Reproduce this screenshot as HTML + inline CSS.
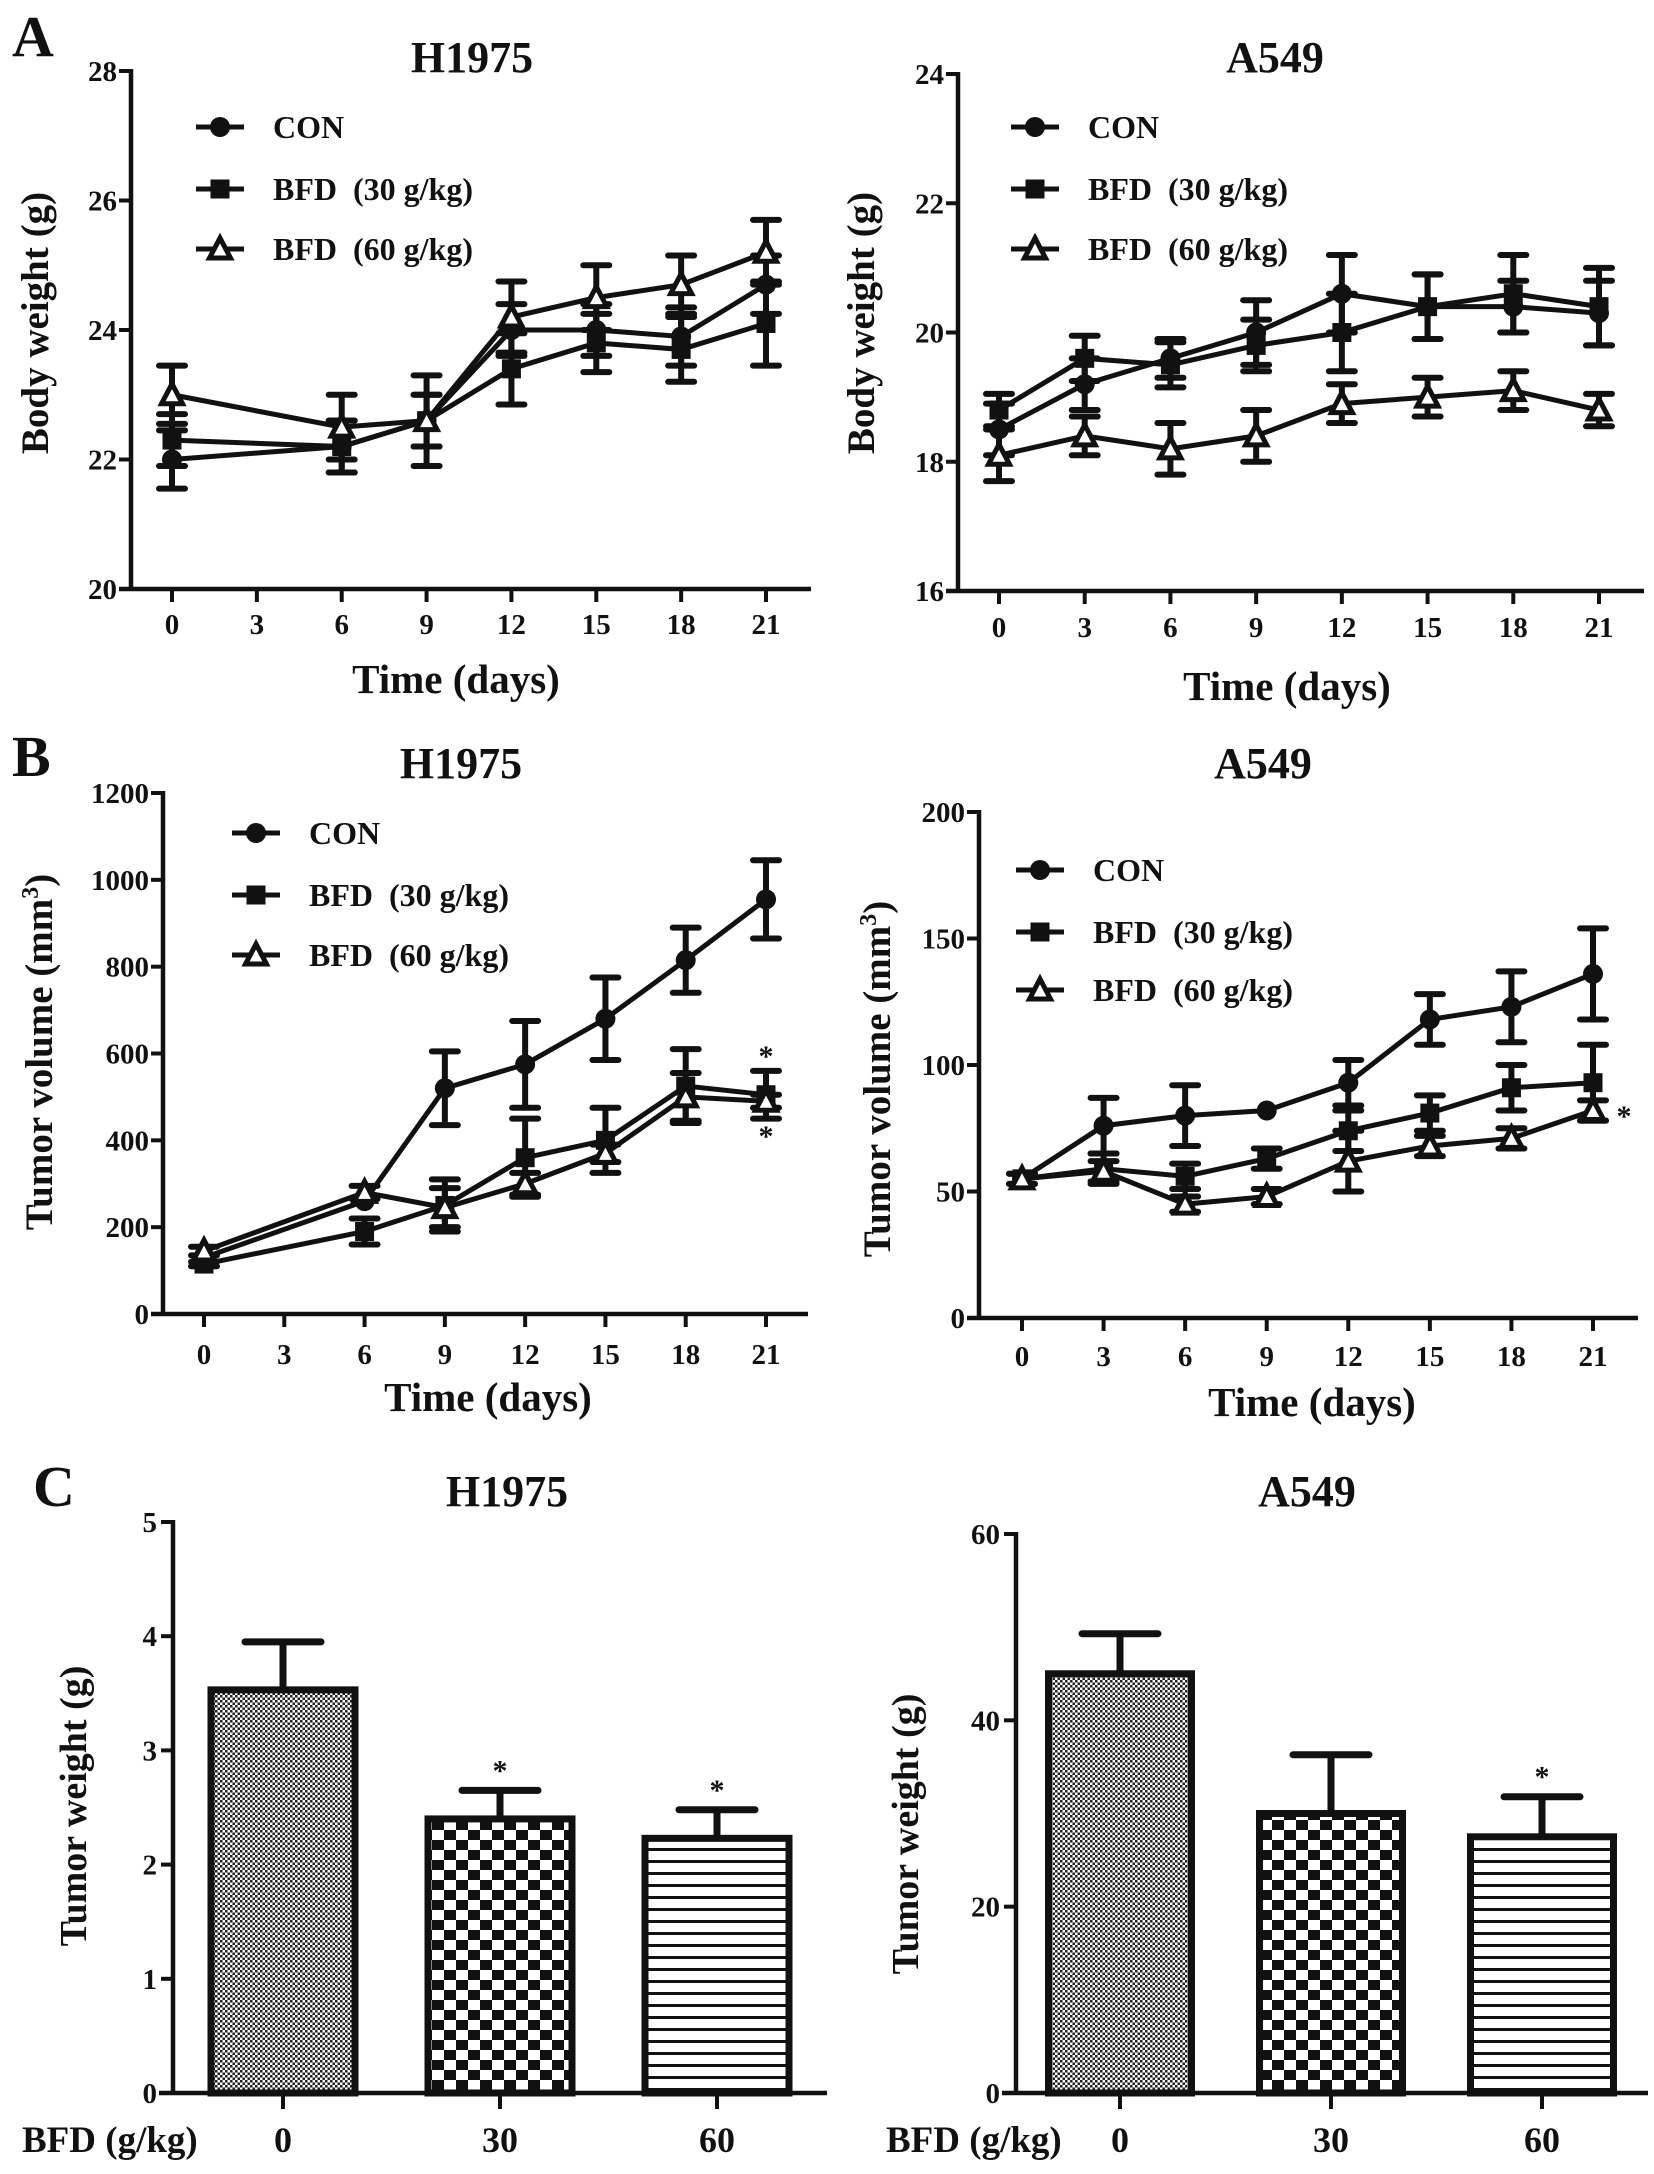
<!DOCTYPE html>
<html><head><meta charset="utf-8">
<style>
html,body{margin:0;padding:0;background:#fff;}
svg{display:block;}
text{font-family:"Liberation Serif",serif;font-weight:bold;fill:#111;}
</style></head>
<body>
<svg id="fig" width="1654" height="2174" viewBox="0 0 1654 2174" xmlns="http://www.w3.org/2000/svg">
<defs>
<pattern id="pFine" width="5" height="5" patternUnits="userSpaceOnUse"><rect width="5" height="5" fill="#fff"/><rect width="2.5" height="2.5" fill="#222"/><rect x="2.5" y="2.5" width="2.5" height="2.5" fill="#222"/></pattern>
<pattern id="pCheck" width="24" height="20" patternUnits="userSpaceOnUse"><rect width="24" height="20" fill="#fff"/><rect width="12" height="10" fill="#111"/><rect x="12" y="10" width="12" height="10" fill="#111"/></pattern>
<pattern id="pLines" width="10" height="12" patternUnits="userSpaceOnUse"><rect width="10" height="12" fill="#fff"/><rect y="0" width="10" height="3" fill="#111"/></pattern>
</defs>
<g id="root"></g>
</svg>
<script>
// ---------- data ----------
const daysA1 = [0,6,9,12,15,18,21];
const daysAll = [0,3,6,9,12,15,18,21];
const xTickLabels = [0,3,6,9,12,15,18,21];
const seriesNames = ["CON","BFD\u00a0\u00a0(30 g/kg)","BFD\u00a0\u00a0(60 g/kg)"];

// A H1975 body weight
const a1Con = [22.0,22.2,22.6,24.0,24.0,23.9,24.7];
const a1Con_e = [0.45,0.4,0.4,0.4,0.4,0.45,0.45];
const a1B30 = [22.3,22.2,22.6,23.4,23.8,23.7,24.1];
const a1B30_e = [0.4,0.4,0.4,0.55,0.45,0.5,0.65];
const a1B60 = [23.0,22.5,22.6,24.2,24.5,24.7,25.2];
const a1B60_e = [0.45,0.5,0.7,0.55,0.5,0.45,0.5];
const a1Ticks = [20,22,24,26,28];

// A A549 body weight
const a2Con = [18.5,19.2,19.6,20.0,20.6,20.4,20.4,20.3];
const a2Con_e = [0.4,0.4,0.3,0.5,0.6,0.5,0.4,0.5];
const a2B30 = [18.8,19.6,19.5,19.8,20.0,20.4,20.6,20.4];
const a2B30_e = [0.25,0.35,0.35,0.4,0.6,0.5,0.6,0.6];
const a2B60 = [18.1,18.4,18.2,18.4,18.9,19.0,19.1,18.8];
const a2B60_e = [0.4,0.3,0.4,0.4,0.3,0.3,0.3,0.25];
const a2Ticks = [16,18,20,22,24];

// B H1975 tumor volume
const b1Con = [130,260,520,575,680,815,955];
const b1Con_e = [0,0,85,100,95,75,90];
const b1B30 = [115,190,250,360,400,525,505];
const b1B30_e = [5,30,60,90,75,85,55];
const b1B60 = [145,280,245,300,370,500,490];
const b1B60_e = [10,15,45,25,20,55,15];
const b1Ticks = [0,200,400,600,800,1000,1200];

// B A549 tumor volume
const b2Con = [55,76,80,82,93,118,123,136];
const b2Con_e = [0,11,12,0,9,10,14,18];
const b2B30 = [55,59,56,63,74,81,91,93];
const b2B30_e = [2,6,5,4,8,7,9,15];
const b2B60 = [55,58,45,48,62,68,71,82];
const b2B60_e = [2,4,3,3,12,4,4,4];
const b2Ticks = [0,50,100,150,200];

// C tumor weight
const cCats = ["0","30","60"];
const c1Vals = [3.53,2.40,2.23];
const c1Err = [0.42,0.25,0.25];
const c1Ticks = [0,1,2,3,4,5];
const c2Vals = [45,30,27.5];
const c2Err = [4.3,6.3,4.3];
const c2Ticks = [0,20,40,60];

// ---------- helpers ----------
const NS="http://www.w3.org/2000/svg";
const root=document.getElementById('root');
function mk(tag,attrs,parent,txt){const e=document.createElementNS(NS,tag);for(const k in attrs)e.setAttribute(k,attrs[k]);if(txt!==undefined)e.textContent=txt;(parent||root).appendChild(e);return e;}

function marker(g,type,x,y,s){
  let m;
  if(type===0){m=mk('circle',{cx:x,cy:y,r:10*s,fill:'#111'},g);}
  else if(type===1){m=mk('rect',{x:x-9.5*s,y:y-9.5*s,width:19*s,height:19*s,fill:'#111'},g);}
  else {m=mk('polygon',{points:`${x},${y-11*s} ${x-10.5*s},${y+9*s} ${x+10.5*s},${y+9*s}`,fill:'#fff',stroke:'#111','stroke-width':5*s},g);}
  return m;
}

function lineChart(cfg){
  const g=mk('g',{});
  
  
  const xs=d=>cfg.x0+(cfg.x21-cfg.x0)*d/21;
  const ys=v=>cfg.yBot-(cfg.yBot-cfg.yTop)*(v-cfg.yMin)/(cfg.yMax-cfg.yMin);
  const ya=mk('line',{x1:cfg.ax,y1:cfg.yTop-2,x2:cfg.ax,y2:cfg.yBot,stroke:'#111','stroke-width':4.5},g);
  
  const xa=mk('line',{x1:cfg.ax-12,y1:cfg.yBot,x2:cfg.axEnd,y2:cfg.yBot,stroke:'#111','stroke-width':4.5},g);
  
  cfg.yTicks.forEach(t=>{
    mk('line',{x1:cfg.ax-12,y1:ys(t),x2:cfg.ax,y2:ys(t),stroke:'#111','stroke-width':4},g);
    const tl=mk('text',{x:cfg.ax-14,y:ys(t)+10,'text-anchor':'end','font-size':29},g,String(t));
    
  });
  xTickLabels.forEach(t=>{
    mk('line',{x1:xs(t),y1:cfg.yBot,x2:xs(t),y2:cfg.yBot+13,stroke:'#111','stroke-width':4},g);
    const tl=mk('text',{x:xs(t),y:cfg.tickY,'text-anchor':'middle','font-size':29},g,String(t));
    
  });
  cfg.series.forEach((s,si)=>{
    const sg=mk('g',{},g);
    
    
    const pts=s.v.map((v,i)=>xs(cfg.days[i])+','+ys(v)).join(' ');
    mk('polyline',{points:pts,fill:'none',stroke:'#111','stroke-width':5},sg);
    s.v.forEach((v,i)=>{
      const x=xs(cfg.days[i]),e=s.e[i];
      if(e>0){
        const eb=mk('path',{d:`M${x},${ys(v+e)}V${ys(v-e)}M${x-13},${ys(v+e)}H${x+13}M${x-13},${ys(v-e)}H${x+13}`,stroke:'#111','stroke-width':6,fill:'none','stroke-linecap':'round'},sg);
        
      }
    });
    s.v.forEach((v,i)=>{
      const m=marker(sg,si,xs(cfg.days[i]),ys(v),1);
      
      
    });
  });
  const lg=mk('g',{},g);
  
  seriesNames.forEach((n,i)=>{
    const y=cfg.legY[i];
    mk('line',{x1:cfg.legX,y1:y,x2:cfg.legX+48,y2:y,stroke:'#111','stroke-width':5},lg);
    marker(lg,i,cfg.legX+24,y,1);
    const t=mk('text',{x:cfg.legX+77,y:y+11,'font-size':32},lg,n);
    
  });
  const tt=mk('text',{x:cfg.titleX,y:cfg.titleY,'text-anchor':'middle','font-size':44},g,cfg.title);
  
  const xt=mk('text',{x:cfg.xtX,y:cfg.xtY,'text-anchor':'middle','font-size':41},g,'Time (days)');
  
  const yt=mk('text',{x:0,y:0,'text-anchor':'middle','font-size':cfg.ytSize,transform:`translate(${cfg.ytX},${cfg.ytY}) rotate(-90)`},g);
  
  if(cfg.mm3){yt.textContent='Tumor volume (mm';mk('tspan',{'font-size':24,dy:-14},yt,'3');mk('tspan',{dy:14},yt,')');}
  else yt.textContent=cfg.ytitle;
  (cfg.stars||[]).forEach(st=>{
    const s=mk('text',{x:st[0],y:st[1],'text-anchor':'middle','font-size':30,fill:'#333'},g,'*');
    
  });
  return g;
}

function barChart(cfg){
  const g=mk('g',{});
  
  
  const ys=v=>cfg.yBot-(cfg.yBot-cfg.yTop)*v/cfg.yMax;
  const ya=mk('line',{x1:cfg.ax,y1:cfg.yTop-2,x2:cfg.ax,y2:cfg.yBot,stroke:'#111','stroke-width':4.5},g);
  
  const xa=mk('line',{x1:cfg.ax-14,y1:cfg.yBot,x2:cfg.axEnd,y2:cfg.yBot,stroke:'#111','stroke-width':4.5},g);
  
  cfg.yTicks.forEach(t=>{
    mk('line',{x1:cfg.ax-12,y1:ys(t),x2:cfg.ax,y2:ys(t),stroke:'#111','stroke-width':4},g);
    const tl=mk('text',{x:cfg.ax-16,y:ys(t)+10,'text-anchor':'end','font-size':29},g,String(t));
    
  });
  const fills=['url(#pFine)','url(#pCheck)','url(#pLines)'];
  cfg.vals.forEach((v,i)=>{
    const cx=cfg.cx[i], w=cfg.bw;
    const eb=mk('path',{d:`M${cx},${ys(v)}V${ys(v+cfg.err[i])}M${cx-38},${ys(v+cfg.err[i])}H${cx+38}`,stroke:'#111','stroke-width':7,fill:'none','stroke-linecap':'round'},g);
    
    const r=mk('rect',{x:cx-w/2,y:ys(v),width:w,height:cfg.yBot-ys(v),fill:fills[i],stroke:'#111','stroke-width':7},g);
    
    mk('line',{x1:cx,y1:cfg.yBot,x2:cx,y2:cfg.yBot+16,stroke:'#111','stroke-width':4},g);
    const tl=mk('text',{x:cx,y:cfg.labY,'text-anchor':'middle','font-size':36},g,cCats[i]);
    
    if(cfg.star[i]){
      const s=mk('text',{x:cx,y:ys(v+cfg.err[i])-10,'text-anchor':'middle','font-size':30,fill:'#333'},g,'*');
      
    }
  });
  const xl=mk('text',{x:cfg.xlX,y:cfg.labY,'font-size':37},g,'BFD (g/kg)');
  
  const tt=mk('text',{x:cfg.titleX,y:1506,'text-anchor':'middle','font-size':44},g,cfg.title);
  
  const yt=mk('text',{x:0,y:0,'text-anchor':'middle','font-size':38,transform:`translate(${cfg.ytX},${cfg.ytY}) rotate(-90)`},g,'Tumor weight (g)');
  
  return g;
}

[['A',12,56],['B',12,776],['C',33,1506]].forEach(p=>{
  const t=mk('text',{x:p[1],y:p[2],'font-size':58},root,p[0]);
  
  
});

lineChart({name:'chart-a-h1975-body-weight',days:daysA1,x0:172,x21:766,ax:131,axEnd:811,yTop:71,yBot:589,yMin:20,yMax:28,yTicks:a1Ticks,tickY:634,
  series:[{v:a1Con,e:a1Con_e},{v:a1B30,e:a1B30_e},{v:a1B60,e:a1B60_e}],
  legX:196,legY:[127,189,249],title:'H1975',titleX:472,titleY:72,xtX:456,xtY:693,ytitle:'Body weight (g)',ytX:48,ytY:323,ytSize:39});
lineChart({name:'chart-a-a549-body-weight',days:daysAll,x0:999,x21:1599,ax:958,axEnd:1644,yTop:74,yBot:591,yMin:16,yMax:24,yTicks:a2Ticks,tickY:637,
  series:[{v:a2Con,e:a2Con_e},{v:a2B30,e:a2B30_e},{v:a2B60,e:a2B60_e}],
  legX:1011,legY:[127,189,249],title:'A549',titleX:1275,titleY:72,xtX:1287,xtY:700,ytitle:'Body weight (g)',ytX:874,ytY:323,ytSize:39});
lineChart({name:'chart-b-h1975-tumor-volume',days:daysA1,x0:204,x21:766,ax:163,axEnd:808,yTop:793,yBot:1314,yMin:0,yMax:1200,yTicks:b1Ticks,tickY:1364,
  series:[{v:b1Con,e:b1Con_e},{v:b1B30,e:b1B30_e},{v:b1B60,e:b1B60_e}],
  legX:232,legY:[833,895,955],title:'H1975',titleX:461,titleY:778,xtX:488,xtY:1411,mm3:true,ytX:52,ytY:1052,ytSize:39,
  stars:[[766,1066],[766,1146]]});
lineChart({name:'chart-b-a549-tumor-volume',days:daysAll,x0:1022,x21:1593,ax:979,axEnd:1638,yTop:812,yBot:1318,yMin:0,yMax:200,yTicks:b2Ticks,tickY:1366,
  series:[{v:b2Con,e:b2Con_e},{v:b2B30,e:b2B30_e},{v:b2B60,e:b2B60_e}],
  legX:1016,legY:[870,932,990],title:'A549',titleX:1263,titleY:778,xtX:1312,xtY:1416,mm3:true,ytX:890,ytY:1079,ytSize:39,
  stars:[[1624,1126]]});
barChart({name:'chart-c-h1975-tumor-weight',ax:173,axEnd:827,yTop:1522,yBot:2093,yMax:5,yTicks:c1Ticks,vals:c1Vals,err:c1Err,cx:[283,500,717],bw:144,
  star:[false,true,true],labY:2152,xlX:22,title:'H1975',titleX:507,ytX:86,ytY:1806});
barChart({name:'chart-c-a549-tumor-weight',ax:1016,axEnd:1648,yTop:1534,yBot:2093,yMax:60,yTicks:c2Ticks,vals:c2Vals,err:c2Err,cx:[1120,1331,1542],bw:143,
  star:[false,false,true],labY:2152,xlX:886,title:'A549',titleX:1307,ytX:918,ytY:1834});
</script>
</body></html>
